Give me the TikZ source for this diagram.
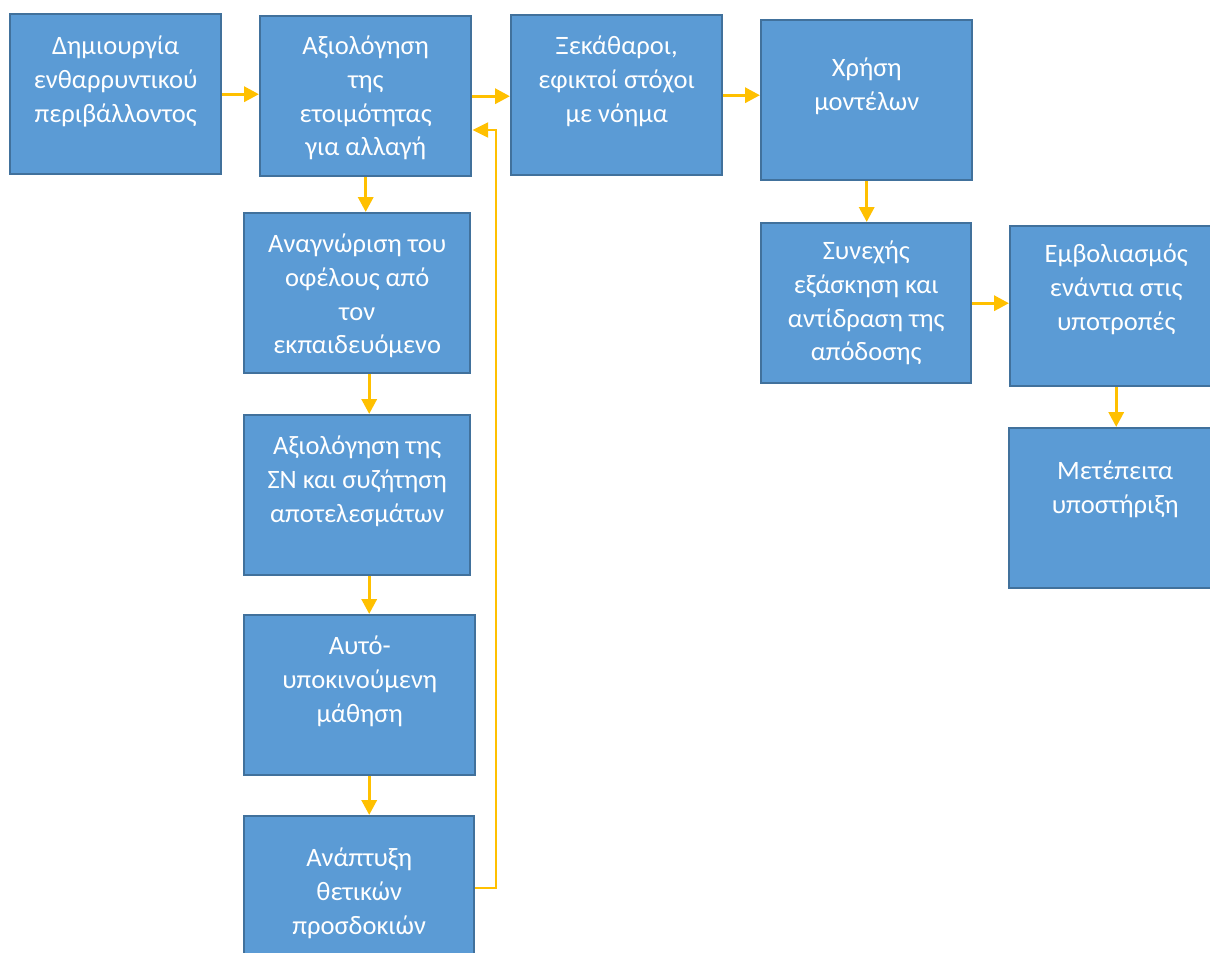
\documentclass[tikz,border=0pt]{standalone}
\usepackage{fontspec}
\setmainfont{Carlito}
\usetikzlibrary{arrows.meta,positioning}

\definecolor{gemisma}{HTML}{5B9BD5}
\definecolor{perigramma}{HTML}{41719C}
\definecolor{xrysafi}{HTML}{FFC000}

% box text: width, first baseline, lines
\newcommand{\keimeno}[3]{\parbox[c][3.2cm][t]{#1}{\centering\rule{0pt}{#2}#3}}

\tikzset{
	kouti/.style={draw=perigramma, fill=gemisma, line width=1.4pt, inner sep=0pt,
		anchor=north west, text=white, font=\fontsize{15.1pt}{19.3pt}\selectfont},
	velos/.style={draw=xrysafi, line width=1.9pt, -{Triangle[length=8.5pt,width=8.5pt]}},
	epistrofi/.style={draw=xrysafi, line width=1.2pt, -{Triangle[length=9pt,width=8.5pt]}}
}

\begin{document}
\begin{tikzpicture}[x=0.02cm, y=-0.02cm]
	\fill[white] (0,0) rectangle (1210,953);
	\useasboundingbox (0,0) rectangle (1210,953);
	\clip (0,0) rectangle (1210,953);

	\node[kouti] (A) at (9,13) {\keimeno{4.22cm}{0.80cm}{Δημιουργία\\ενθαρρυντικού\\περιβάλλοντος}};
	\node[kouti] (B) at (259,15) {\keimeno{4.22cm}{0.76cm}{Αξιολόγηση\\της\\ετοιμότητας\\για αλλαγή}};
	\node[kouti] (C) at (510,14) {\keimeno{4.22cm}{0.78cm}{Ξεκάθαροι,\\εφικτοί στόχοι\\με νόημα}};
	\node[kouti] (D) at (760,19) {\keimeno{4.22cm}{1.12cm}{Χρήση\\μοντέλων}};

	\node[kouti] (E) at (243,212) {\keimeno{4.52cm}{0.78cm}{Αναγνώριση του\\οφέλους από\\τον\\εκπαιδευόμενο}};
	\node[kouti] (F) at (243,414) {\keimeno{4.52cm}{0.78cm}{Αξιολόγηση της\\ΣΝ και συζήτηση\\αποτελεσμάτων}};
	\node[kouti] (G) at (243,614) {\keimeno{4.62cm}{0.78cm}{Αυτό-\\υποκινούμενη\\μάθηση}};
	\node[kouti] (H) at (243,815) {\keimeno{4.60cm}{1.00cm}{Ανάπτυξη\\θετικών\\προσδοκιών}};

	\node[kouti] (I) at (760,222) {\keimeno{4.20cm}{0.72cm}{Συνεχής\\εξάσκηση και\\αντίδραση της\\απόδοσης}};
	\node[kouti] (J) at (1009,225) {\keimeno{4.24cm}{0.72cm}{Εμβολιασμός\\ενάντια στις\\υποτροπές}};
	\node[kouti] (K) at (1008,427) {\keimeno{4.24cm}{1.02cm}{Μετέπειτα\\υποστήριξη}};

	\draw[velos] (A.east) -- (A.east -| B.west);
	\draw[velos] (B.east) -- (B.east -| C.west);
	\draw[velos] (C.east) -- (C.east -| D.west);
	\draw[velos] (D.south) -- (D.south |- I.north);
	\draw[velos] (I.east) -- (I.east -| J.west);
	\draw[velos] (J.south) -- (J.south |- K.north);

	\draw[velos] (B.south) -- (B.south |- E.north);
	\draw[velos] ([xshift=0.24cm]E.south) -- ([xshift=0.24cm]E.south |- F.north);
	\draw[velos] ([xshift=0.24cm]F.south) -- ([xshift=0.24cm]F.south |- G.north);
	\draw[velos] ([xshift=0.19cm]G.south) -- ([xshift=0.19cm]G.south |- H.north);

	\coordinate (kato) at (496,888);
	\coordinate (pano) at (496,130);
	\draw[epistrofi] (H.east |- kato) -- (kato) -- (pano) -- (B.east |- pano);
\end{tikzpicture}
\end{document}
